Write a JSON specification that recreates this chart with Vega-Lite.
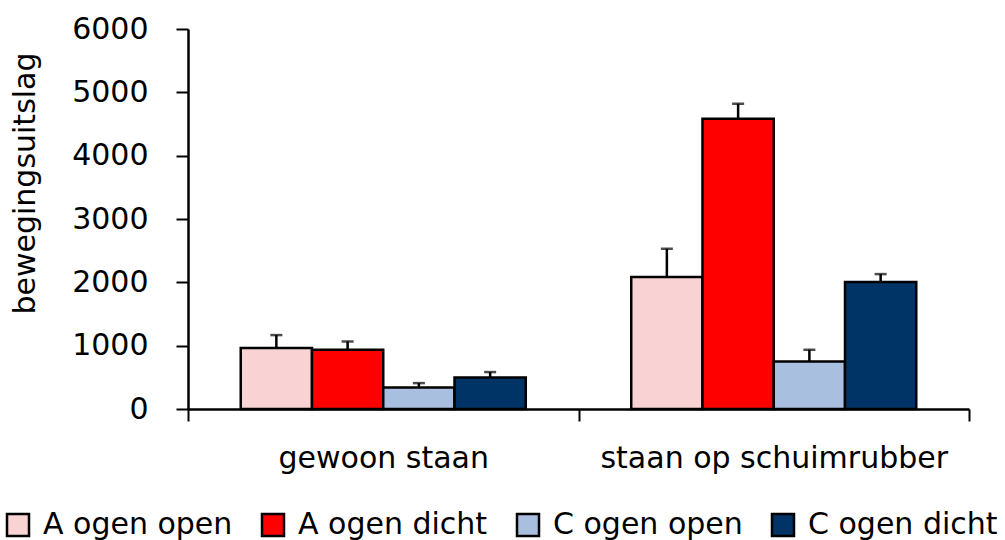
{
  "$schema": "https://vega.github.io/schema/vega-lite/v6.json",
  "autosize": {"type": "none"},
  "width": 781,
  "height": 380,
  "padding": {"left": 188, "top": 29, "right": 36, "bottom": 131},
  "background": "white",
  "config": {
    "view": {"stroke": null},
    "font": "DejaVu Sans",
    "axis": {"grid": false, "domainColor": "black", "domainWidth": 2.5, "tickColor": "black", "tickWidth": 2, "tickSize": 12, "labelColor": "black", "titleColor": "black", "labelFont": "DejaVu Sans", "titleFont": "DejaVu Sans"}
  },
  "data": {
    "values": [
      {"groep": "gewoon staan", "conditie": "A ogen open", "waarde": 962, "boven": 1167},
      {"groep": "gewoon staan", "conditie": "A ogen dicht", "waarde": 935, "boven": 1066},
      {"groep": "gewoon staan", "conditie": "C ogen open", "waarde": 340, "boven": 409},
      {"groep": "gewoon staan", "conditie": "C ogen dicht", "waarde": 497, "boven": 583},
      {"groep": "staan op schuimrubber", "conditie": "A ogen open", "waarde": 2083, "boven": 2530},
      {"groep": "staan op schuimrubber", "conditie": "A ogen dicht", "waarde": 4583, "boven": 4820},
      {"groep": "staan op schuimrubber", "conditie": "C ogen open", "waarde": 750, "boven": 935},
      {"groep": "staan op schuimrubber", "conditie": "C ogen dicht", "waarde": 2004, "boven": 2130}
    ]
  },
  "encoding": {
    "x": {
      "field": "groep", "type": "nominal", "sort": null,
      "scale": {"paddingInner": 0, "paddingOuter": 0},
      "axis": {"title": null, "labelAngle": 0, "labelFontSize": 30, "labelPadding": 22, "labelLimit": 600, "tickBand": "extent"}
    },
    "xOffset": {
      "field": "conditie", "type": "nominal",
      "sort": ["A ogen open", "A ogen dicht", "C ogen open", "C ogen dicht"],
      "scale": {"paddingInner": 0, "paddingOuter": 0.74}
    }
  },
  "layer": [
    {
      "mark": {"type": "bar", "stroke": "black", "strokeWidth": 2.5, "opacity": 1},
      "encoding": {
        "y": {
          "field": "waarde", "type": "quantitative",
          "scale": {"domain": [0, 6000], "nice": false, "zero": true},
          "axis": {"title": "bewegingsuitslag", "titleFontSize": 30, "titleFontWeight": "normal", "titlePadding": 31, "titleY": 154, "labelFontSize": 30, "labelPadding": 28, "values": [0, 1000, 2000, 3000, 4000, 5000, 6000], "format": "d"}
        },
        "color": {
          "field": "conditie", "type": "nominal",
          "sort": ["A ogen open", "A ogen dicht", "C ogen open", "C ogen dicht"],
          "scale": {"domain": ["A ogen open", "A ogen dicht", "C ogen open", "C ogen dicht"], "range": ["#F9D3D3", "#FF0000", "#A9BFDF", "#003366"]},
          "legend": {
            "title": null, "orient": "none", "direction": "horizontal", "columns": 4,
            "legendX": -185, "legendY": 481,
            "symbolType": "square", "symbolSize": 484, "symbolStrokeColor": "black", "symbolStrokeWidth": 2.5, "symbolOpacity": 1, "symbolFillOpacity": 1,
            "labelFontSize": 30, "labelColor": "black", "labelOffset": 10, "labelLimit": 400,
            "gridAlign": "all", "columnPadding": 24
          }
        }
      }
    },
    {
      "mark": {"type": "rule", "color": "black", "strokeWidth": 2.5},
      "encoding": {
        "y": {"field": "waarde", "type": "quantitative"},
        "y2": {"field": "boven"}
      }
    },
    {
      "mark": {"type": "tick", "color": "black", "thickness": 2.5, "size": 12, "orient": "horizontal"},
      "encoding": {
        "y": {"field": "boven", "type": "quantitative"}
      }
    }
  ]
}
